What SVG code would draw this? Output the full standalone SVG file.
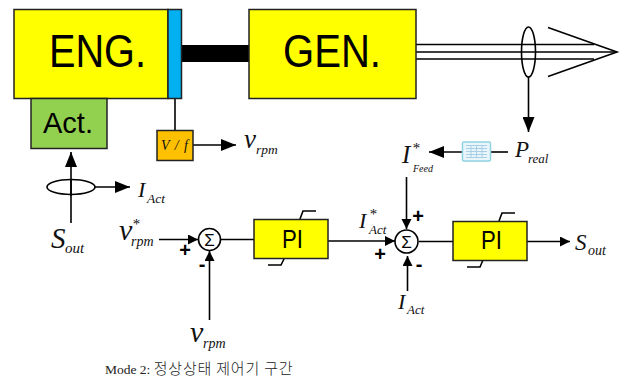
<svg xmlns="http://www.w3.org/2000/svg" width="622" height="378" viewBox="0 0 622 378">
<defs>
<marker id="ah" markerUnits="userSpaceOnUse" markerWidth="16" markerHeight="12" refX="15" refY="6" orient="auto"><path d="M0,0L15,6L0,12Z" fill="#000"/></marker>
<marker id="as" markerUnits="userSpaceOnUse" markerWidth="11" markerHeight="11" refX="10" refY="5" orient="auto"><path d="M0,0L10,5L0,10Z" fill="#000"/></marker>
</defs>
<style>
.b{stroke:#222;stroke-width:1.5}
.y{fill:#ffff00}
.l{fill:none;stroke:#000;stroke-width:1.6}
.w{fill:#fff;stroke:#000;stroke-width:1.6}
.s{font-family:"Liberation Sans",Arial,sans-serif;fill:#000}
.m{font-family:"Liberation Serif","Times New Roman",serif;font-style:italic;fill:#111}
.o{font-family:"Liberation Sans",Arial,sans-serif;font-weight:bold;fill:#000;text-anchor:middle}
</style>
<rect width="622" height="378" fill="#fff"/>
<g id="connectors">
<rect x="181" y="45" width="68" height="17" fill="#000"/>
<path class="l" d="M175,98V130"/>
<path class="l" d="M193,145H236" marker-end="url(#ah)"/>
<path class="l" d="M71,223V152" marker-end="url(#ah)"/>
<path class="l" d="M95,187H130" marker-end="url(#ah)"/>
<path class="l" d="M416,44.500H594M416,52H617M416,59H594"/>
<path class="l" d="M548,27.500L617,52L548,76.500"/>
<path class="l" d="M528.500,77V132" marker-end="url(#ah)"/>
<path class="l" d="M508,152H491"/>
<path class="l" d="M462,152H429" marker-end="url(#ah)"/>
<path class="l" d="M406.500,177V229" marker-end="url(#as)"/>
<path class="l" d="M159,239.500H198" marker-end="url(#as)"/>
<path class="l" d="M209.500,320V251" marker-end="url(#as)"/>
<path class="l" d="M221,239.500H254"/>
<path class="l" d="M328,241H395" marker-end="url(#as)"/>
<path class="l" d="M407.500,291V256" marker-end="url(#as)"/>
<path class="l" d="M419,241.500H453"/>
<path class="l" d="M527,241.500H570" marker-end="url(#as)"/>
<path class="l" d="M300,219L303,211H316M284,259L281,265H268"/>
<path class="l" d="M499,221L502,213H515M483,260L480,267H467"/>
</g>
<g id="eng"><rect class="b y" x="14" y="9.500" width="154" height="89"/><text class="s" x="49" y="67" font-size="46" textLength="97" lengthAdjust="spacingAndGlyphs">ENG.</text></g>
<g id="coupling"><rect class="b" x="168" y="9.500" width="13.500" height="89" fill="#00b0f0"/></g>
<g id="gen"><rect class="b y" x="249" y="9.500" width="167" height="89"/><text class="s" x="283" y="67" font-size="46" textLength="98" lengthAdjust="spacingAndGlyphs">GEN.</text></g>
<g id="act"><rect class="b" x="31" y="98.500" width="76" height="50" fill="#92d050"/><text class="s" x="43" y="133" font-size="30" textLength="50" lengthAdjust="spacingAndGlyphs">Act.</text></g>
<g id="vf"><rect class="b" x="157" y="130.500" width="36" height="30" fill="#ffc000"/><text class="m" x="161" y="150" font-size="14" textLength="27">V / f</text></g>
<g id="sensor-act"><ellipse cx="71" cy="187" rx="24" ry="7.500" fill="none" stroke="#000" stroke-width="1.600"/><path class="l" d="M71,179V196"/></g>
<g id="sensor-power"><ellipse cx="528.500" cy="52" rx="7" ry="25" fill="none" stroke="#000" stroke-width="1.600"/></g>
<g id="table"><rect x="462.500" y="142" width="28" height="19" rx="1.500" fill="#e8f6fb" stroke="#8fd3e3" stroke-width="1.500"/><path d="M466,145.500H487M466,148.500H487M466,151.500H487M466,154.500H487M466,157.500H487M471,145V158M476.500,145V158M482,145V158" stroke="#a9cfe6" stroke-width="1" fill="none"/></g>
<g id="sum1"><circle class="w" cx="209.500" cy="239.500" r="11"/><text class="s" x="209.500" y="245.500" font-size="17" text-anchor="middle">Σ</text></g>
<g id="sum2"><circle class="w" cx="406.500" cy="241.500" r="11.500"/><text class="s" x="406.500" y="247.500" font-size="17" text-anchor="middle">Σ</text></g>
<g id="pi1"><rect class="b y" x="254" y="219.500" width="74" height="39"/><text class="s" x="282" y="248" font-size="25" textLength="21" lengthAdjust="spacingAndGlyphs">PI</text></g>
<g id="pi2"><rect class="b y" x="453" y="221.500" width="74" height="39"/><text class="s" x="481" y="249" font-size="25" textLength="21" lengthAdjust="spacingAndGlyphs">PI</text></g>
<g id="labels">
<text class="m" x="244" y="148" font-size="27">v</text><text class="m" x="256" y="154" font-size="13.500">rpm</text>
<text class="m" x="138" y="197" font-size="22">I</text><text class="m" x="147" y="203" font-size="13.500">Act</text>
<text class="m" x="51" y="248" font-size="29">S</text><text class="m" x="65" y="253" font-size="15">out</text>
<text class="m" x="119" y="240" font-size="30">v</text><text class="m" x="131" y="246" font-size="14">rpm</text><text class="m" x="132" y="229" font-size="15">*</text>
<text class="m" x="190" y="342" font-size="30">v</text><text class="m" x="203" y="348" font-size="14">rpm</text>
<text class="m" x="402" y="163" font-size="25">I</text><text class="m" x="413" y="172" font-size="10">Feed</text><text class="m" x="412" y="153" font-size="15">*</text>
<text class="m" x="515" y="157" font-size="23">P</text><text class="m" x="528" y="163" font-size="13">real</text>
<text class="m" x="359" y="228" font-size="22">I</text><text class="m" x="369" y="234" font-size="13">Act</text><text class="m" x="369" y="219" font-size="15">*</text>
<text class="m" x="398" y="309" font-size="22">I</text><text class="m" x="407" y="314" font-size="13">Act</text>
<text class="m" x="575" y="250" font-size="23">S</text><text class="m" x="588" y="255" font-size="14">out</text>
<text class="o" x="185" y="257" font-size="20">+</text>
<text class="o" x="202" y="271" font-size="20">-</text>
<text class="o" x="418" y="223" font-size="20">+</text>
<text class="o" x="380" y="261" font-size="20">+</text>
<text class="o" x="419" y="271" font-size="20">-</text>
<text x="105" y="374" font-size="13.500" font-family="'Liberation Serif','Noto Sans CJK KR',serif" fill="#222">Mode 2: <tspan font-size="15" font-family="'Noto Sans CJK KR',sans-serif" font-weight="300" letter-spacing="0.800">정상상태 제어기 구간</tspan></text>
</g>
</svg>
